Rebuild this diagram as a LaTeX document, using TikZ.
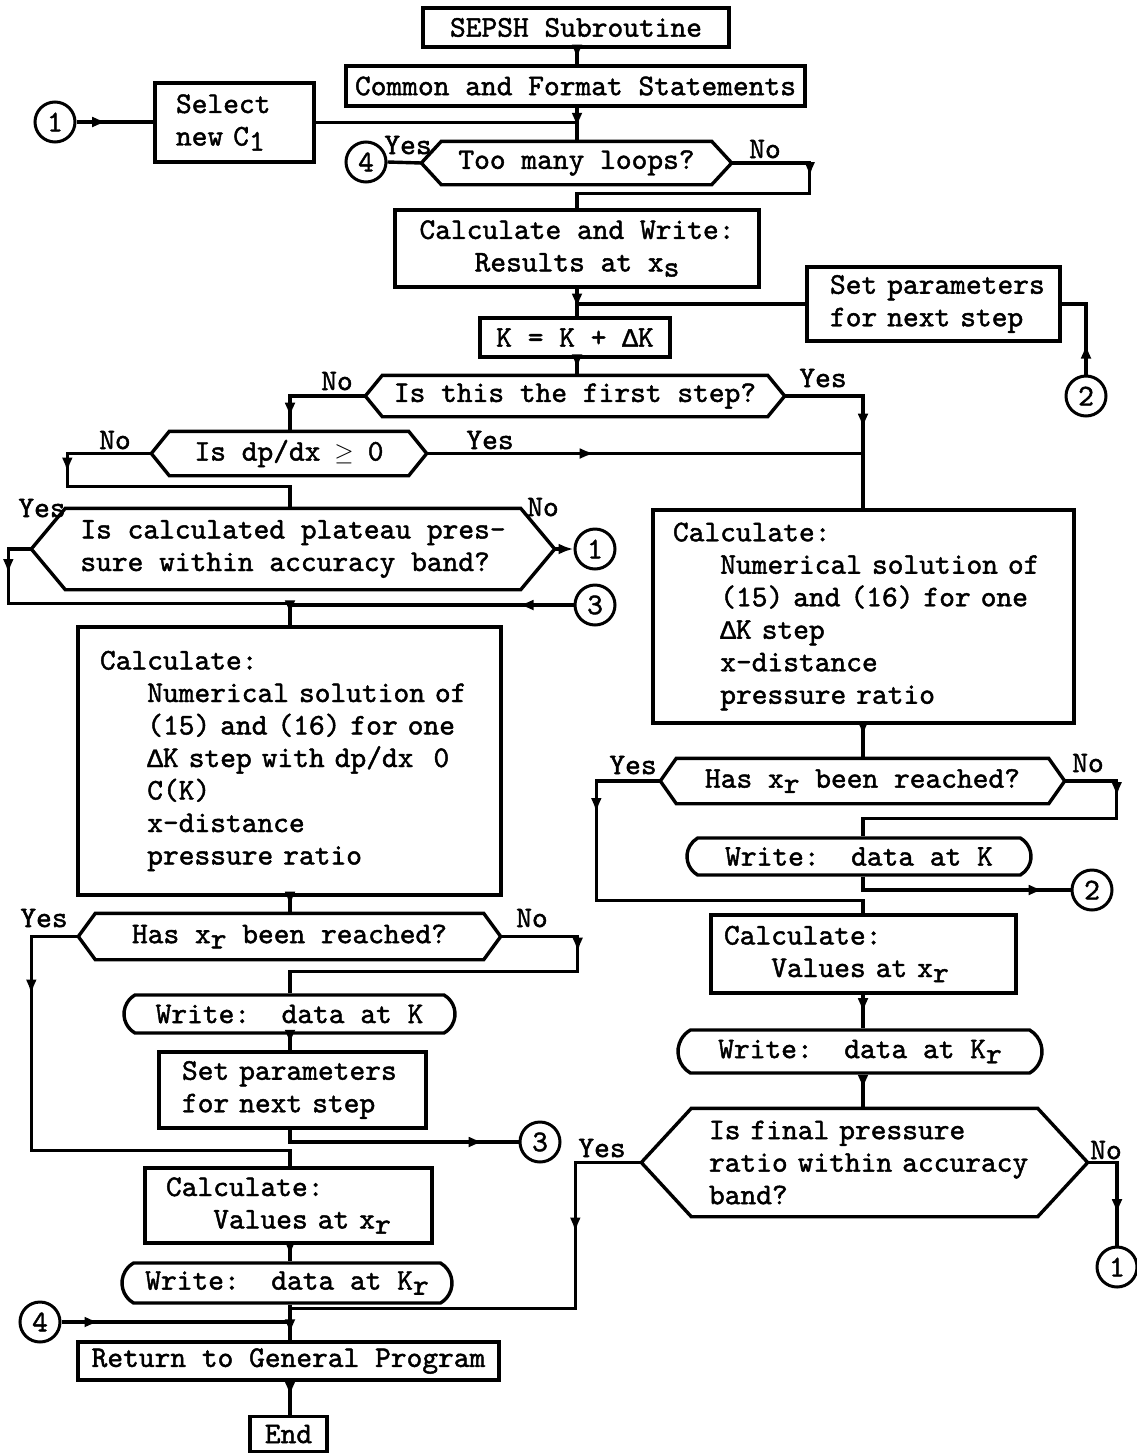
\documentclass[tikz,border=0pt]{standalone}
\usepackage{fontspec}
\setmonofont{lmmono10-regular.otf}[FakeBold=1.5]
\newfontfamily\lmono{Liberation Mono}[FakeBold=1.5]
\usetikzlibrary{shapes.misc,decorations.markings,calc,arrows.meta}
\newcommand\dn[1]{\raisebox{-0.4ex}{#1}}
\newcommand\DK{{\lmono\fontsize{26.25}{30}\selectfont Δ}K}
\newcommand\ind{\hspace*{1.575em}}
\newcommand\hexo[2]{\draw[ln] (#1.west) -- ([xshift=#2pt]#1.north west) -- ([xshift=-#2pt]#1.north east) -- (#1.east) -- ([xshift=-#2pt]#1.south east) -- ([xshift=#2pt]#1.south west) -- cycle;}
\begin{document}
\begin{tikzpicture}[x=1pt,y=-1pt,
  every node/.style={font=\ttfamily\fontsize{30}{32.5}\selectfont, inner sep=0pt, line width=3.4pt},
  ln/.style={line width=3.4pt},
  box/.style={draw, rectangle},
  wbox/.style={draw, rounded rectangle, rounded rectangle arc length=120},
  conn/.style={draw, circle, minimum size=40pt, line width=3pt},
  ah/.style={postaction={decorate, decoration={markings, mark=at position #1 with {\arrow{Latex[length=15pt,width=11pt]}}}}},
  endtip/.style={-{Latex[length=15pt,width=11pt]}},
]
\useasboundingbox (0,0) rectangle (1137,1454);
\coordinate (SL) at (290,0);
\coordinate (SM) at (577,0);
\coordinate (SR) at (863,0);

% ---------- top ----------
\node[box, minimum width=306pt, minimum height=39pt] (sepsh) at (576,27.5) {SEPSH Subroutine};
\node[box, minimum width=459pt, minimum height=40pt] (common) at (575.5,86) {Common and Format Statements};
\node[conn] (c1a) at (55,122) {1};
\node[box, minimum width=159pt, minimum height=79pt, text width=117pt, align=left] (select) at (234.5,122.5) {Select\\new C\dn{1}};
\node[minimum width=307pt, minimum height=40pt] (toomany) at (576.5,163) {Too many loops?};
\hexo{toomany}{20}
\node[conn] (c4a) at (366,162) {4};
\node (ytm) at (408,145) {Yes};
\node (ntm) at (765,149) {No};
\node[box, minimum width=364pt, minimum height=77pt, align=center] (calcwrite) at (577,248.5) {Calculate and Write:\\Results at x\dn{s}};
\node[box, minimum width=253pt, minimum height=74pt, text width=207pt, align=left] (set1) at (933.5,304) {\mbox{Set parameters}\\\mbox{for next step}};
\node[conn] (c2a) at (1086,396) {2};
\node[box, minimum width=190pt, minimum height=39pt] (kbox) at (575,337.5) {K = K + \DK};
\node[minimum width=416pt, minimum height=38pt] (first) at (575,396) {Is this the first step?};
\hexo{first}{17}
\node (nfs) at (337,381) {No};
\node (yfs) at (823,378) {Yes};

% ---------- left column ----------
\node[minimum width=272pt, minimum height=41pt] (dpdx) at (289,453.5) {Is dp/dx \makebox[0.525em]{$\geq$} 0};
\hexo{dpdx}{18}
\node (ndp) at (115,440) {No};
\node (ydp) at (490,440) {Yes};
\node[minimum width=520pt, minimum height=78pt, align=left] (plateau) at (293,549) {Is calculated plateau pres-\\sure within accuracy band?};
\hexo{plateau}{34}
\node (ypl) at (42,508) {Yes};
\node (npl) at (543,507) {No};
\node[conn] (c1b) at (595,549) {1};
\node[conn] (c3a) at (595,605) {3};
\node[box, minimum width=423pt, minimum height=268pt, text width=379pt, align=left] (lbox) at (289.5,761) {Calculate:\\
\mbox{\ind Numerical solution of}\\
\mbox{\ind (15) and (16) for one}\\
\mbox{\ind \DK\ step with dp/dx\ \ 0}\\
\mbox{\ind C(K)}\\
\mbox{\ind x-distance}\\
\mbox{\ind pressure ratio}};
\node[minimum width=419pt, minimum height=43pt] (hxl) at (289.5,936.5) {Has x\dn{r} been reached?};
\hexo{hxl}{17}
\node (yhl) at (44,918) {Yes};
\node (nhl) at (532,918) {No};
\node[wbox, minimum width=331pt, minimum height=38pt] (writeKl) at (289.5,1014) {Write:\ \ data at K};
\node[box, minimum width=267pt, minimum height=76pt, text width=221pt, align=left] (set2) at (292.5,1090) {\mbox{Set parameters}\\\mbox{for next step}};
\node[conn] (c3b) at (540,1142) {3};
\node[box, minimum width=287pt, minimum height=75pt, text width=245pt, align=left] (lcalc) at (288.5,1205.5) {Calculate:\\\mbox{\ind Values at x\dn{r}}};
\node[wbox, minimum width=330pt, minimum height=40pt] (writeKrl) at (287,1283) {Write:\ \ data at K\dn{r}};
\node[conn] (c4b) at (40,1322) {4};
\node[box, minimum width=421pt, minimum height=38pt] (ret) at (288.5,1361) {Return to General Program};
\node[box, minimum width=77pt, minimum height=35pt] (endb) at (288.5,1434) {End};

% ---------- right column ----------
\node[box, minimum width=421pt, minimum height=213pt, text width=381pt, align=left] (rbox) at (863.5,616.5) {Calculate:\\
\mbox{\ind Numerical solution of}\\
\mbox{\ind (15) and (16) for one}\\
\mbox{\ind \DK\ step}\\
\mbox{\ind x-distance}\\
\mbox{\ind pressure ratio}};
\node[minimum width=401pt, minimum height=42pt] (hxr) at (862.5,781) {Has x\dn{r} been reached?};
\hexo{hxr}{16}
\node (yhr) at (633,765) {Yes};
\node (nhr) at (1088,763) {No};
\node[wbox, minimum width=344pt, minimum height=37pt] (writeKr) at (859,856.5) {Write:\ \ data at K};
\node[conn] (c2b) at (1092,890) {2};
\node[box, minimum width=305pt, minimum height=78pt, text width=279pt, align=left] (rcalc) at (863.5,954) {Calculate:\\\mbox{\ind Values at x\dn{r}}};
\node[wbox, minimum width=364pt, minimum height=43pt] (writeKrr) at (860,1051.5) {Write:\ \ data at K\dn{r}};
\node[minimum width=443pt, minimum height=105pt, text width=311pt, align=left] (final) at (864.5,1162.5) {\mbox{Is final pressure}\\\mbox{ratio within accuracy}\\band?};
\hexo{final}{50}
\node (yfi) at (602,1148) {Yes};
\node (nfi) at (1106,1150) {No};
\node[conn] (c1c) at (1117,1267) {1};

% ---------- connectors ----------
\draw[ln, ah=0.4] (c1a.east) -- (select.west |- c1a.east);
\draw[ln, ah=0.7] (sepsh.south -| SM) -- (common.north -| SM);
\draw[ln] (select.east) -- (select.east -| SM);
\draw[ln, ah=0.6] (common.south -| SM) -- (toomany.north -| SM);
\draw[ln] (toomany.west) -- (c4a.east);
\draw[ln, ah=92pt] (toomany.east) -- ++(78,0) |- ($(calcwrite.north -| SM)+(0,-15)$) -- (calcwrite.north -| SM);
\draw[ln, ah=0.72] (calcwrite.south -| SM) -- (kbox.north -| SM);
\draw[ln] (set1.west) -- (set1.west -| SM);
\draw[ln, ah=31pt] (c2a.north) |- (set1.east);
\draw[ln, ah=0.65] (kbox.south -| SM) -- (first.north -| SM);
\draw[ln, ah=97pt] (first.west) -| (dpdx.north -| SL);
\draw[ln, ah=111pt] (first.east) -| (rbox.north -| SR);
\draw[ln, ah=168pt] (dpdx.east) -- (dpdx.east -| SR);
\draw[ln, ah=103pt] (dpdx.west) -- ++(-84,0) |- ($(plateau.north -| SL)+(0,-22)$) -- (plateau.north -| SL);
\draw[ln, endtip] (plateau.east) -- (c1b.west);
\draw[ln, ah=48pt, ah=-10pt] (plateau.west) -- ++(-23,0) |- ($(lbox.north -| SL)+(0,-22)$) -- (lbox.north -| SL);
\draw[ln, ah=55pt] (c3a.west) -- (c3a.west -| SL);
\draw[ln, ah=0.6] (lbox.south -| SL) -- (hxl.north -| SL);
\draw[ln, ah=105pt] (hxl.west) -- ++(-47,0) |- ($(lcalc.north -| SL)+(0,-16)$) -- (lcalc.north -| SL);
\draw[ln, ah=93pt] (hxl.east) -- ++(77,0) |- ($(writeKl.north -| SL)+(0,-22)$) -- (writeKl.north -| SL);
\draw[ln, ah=0.65] (writeKl.south -| SL) -- (set2.north -| SL);
\draw[ln, ah=206pt] (set2.south -| SL) |- (c3b.west);
\draw[ln, ah=0.7] (lcalc.south -| SL) -- (writeKrl.north -| SL);
\draw[ln, ah=-6pt] (writeKrl.south -| SL) -- (ret.north -| SL);
\draw[ln, ah=38pt] (c4b.east) -- (c4b.east -| SL);
\draw[ln, ah=136pt] (final.west) -- ++(-66,0) |- ($(ret.north -| SL)+(0,-32)$);
\draw[ln, ah=0.45] (ret.south -| SL) -- (endb.north -| SL);
\draw[ln, ah=0.35] (rbox.south -| SR) -- (hxr.north -| SR);
\draw[ln, ah=96pt] (hxr.west) -- ++(-64,0) |- ($(rcalc.north -| SR)+(0,-13)$) -- (rcalc.north -| SR);
\draw[ln, ah=68pt] (hxr.east) -- ++(52,0) |- ($(writeKr.north -| SR)+(0,-18)$) -- (writeKr.north -| SR);
\draw[ln, ah=194pt] (writeKr.south -| SR) |- (c2b.west);
\draw[ln, ah=0.55] (rcalc.south -| SR) -- (writeKrr.north -| SR);
\draw[ln, ah=0.45] (writeKrr.south -| SR) -- (final.north -| SR);
\draw[ln, ah=81pt] (final.east) -| (c1c.north);
\end{tikzpicture}
\end{document}
